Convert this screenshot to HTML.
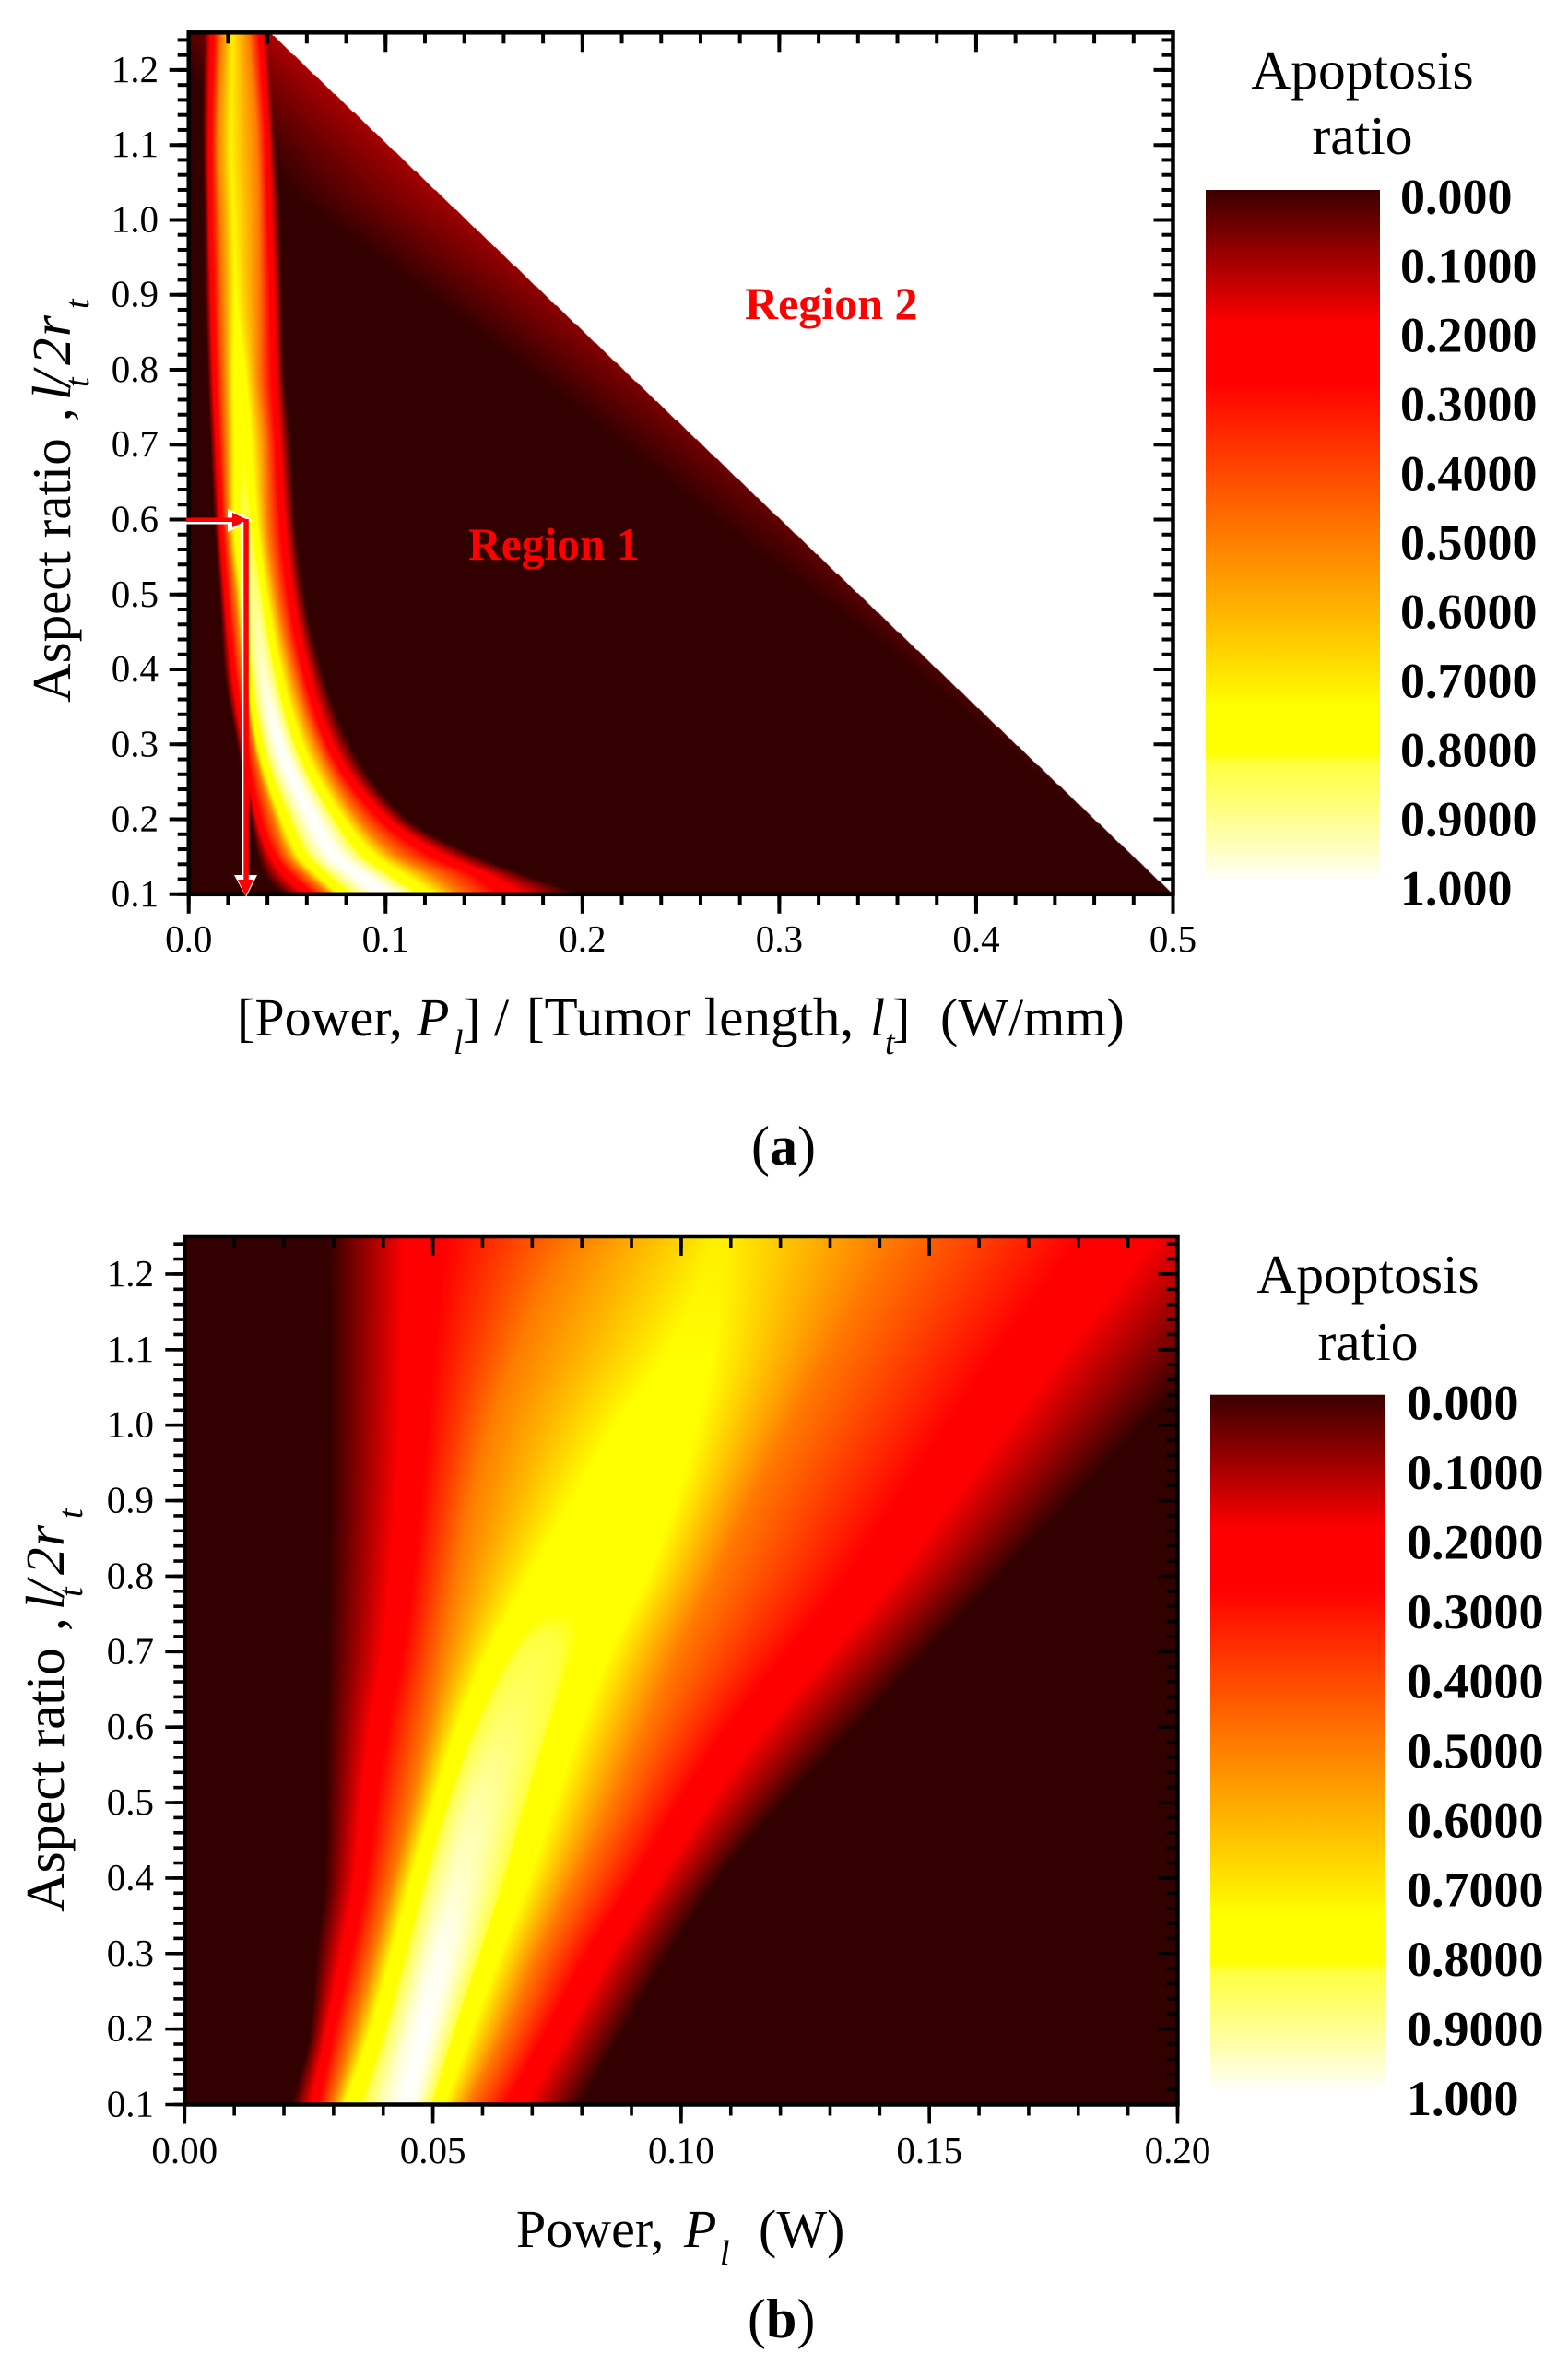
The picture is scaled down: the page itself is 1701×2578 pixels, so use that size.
<!DOCTYPE html>
<html lang="en">
<head>
<meta charset="utf-8">
<title>Apoptosis ratio maps</title>
<style>
html,body{margin:0;padding:0;background:#fff;}
#page{position:relative;width:1701px;height:2578px;overflow:hidden;background:#fff;}
canvas{position:absolute;display:block;}
svg{position:absolute;left:0;top:0;}
text{font-family:"Liberation Serif",serif;fill:#000;}
</style>
</head>
<body>
<div id="page">
<canvas id="heatA"></canvas>
<canvas id="heatB"></canvas>
<svg id="ov" width="1701" height="2578" viewBox="0 0 1701 2578">
  <defs>
    <linearGradient id="barGrad" x1="0" y1="0" x2="0" y2="1"></linearGradient>
  </defs>
  <g id="layerA"></g>
  <g id="layerB"></g>

  <!-- Panel a annotations -->
  <text x="508" y="607" font-size="49.5" font-weight="bold" style="fill:#ff0000">Region 1</text>
  <text x="808" y="346" font-size="50" font-weight="bold" style="fill:#ff0000">Region 2</text>
  <g>
    <rect x="202" y="565.5" width="50" height="3" fill="#fff"></rect>
    <polygon points="247,552 274,564 247,577" fill="#fff"></polygon>
    <rect x="202" y="561.5" width="52" height="4.5" fill="#ff0000"></rect>
    <polygon points="252,556 269,564 252,572" fill="#ff0000"></polygon>
    <rect x="261.7" y="566" width="3.3" height="83" fill="#fff"></rect>
    <rect x="262.7" y="649" width="1.8" height="305" fill="#fff"></rect>
    <polygon points="254,949 279,949 267,973" fill="#fff"></polygon>
    <rect x="264.3" y="563" width="5.5" height="395" fill="#ff0000"></rect>
    <polygon points="258,954 275,954 266.5,972" fill="#ff0000"></polygon>
  </g>

  <!-- Panel a titles -->
  <g transform="translate(76,762) rotate(-90)" font-size="59">
    <text x="0" y="0">Aspect ratio</text>
    <text x="305" y="0">,</text>
    <text x="328" y="0" font-style="italic">l</text>
    <text x="342" y="20" font-size="38" font-style="italic">t</text>
    <text x="343" y="0" font-style="italic">/</text>
    <text x="366" y="0" font-style="italic">2</text>
    <text x="397" y="0" font-style="italic">r</text>
    <text x="427" y="20" font-size="38" font-style="italic">t</text>
  </g>
  <g font-size="58">
    <text x="257" y="1123">[Power,</text>
    <text x="452" y="1123" font-style="italic">P</text>
    <text x="492" y="1143" font-size="38" font-style="italic">l</text>
    <text x="502" y="1123">]</text>
    <text x="536" y="1123">/</text>
    <text x="571" y="1123" font-size="59">[Tumor length,</text>
    <text x="944" y="1123" font-style="italic">l</text>
    <text x="960" y="1143" font-size="38" font-style="italic">t</text>
    <text x="968" y="1123">]</text>
    <text x="1020" y="1123">(W/mm)</text>
  </g>
  <text x="1478" y="96" font-size="59.5" text-anchor="middle">Apoptosis</text>
  <text x="1478" y="167" font-size="59.5" text-anchor="middle">ratio</text>
  <text x="815" y="1263" font-size="60">(<tspan font-weight="bold">a</tspan>)</text>

  <!-- Panel b titles -->
  <g transform="translate(69,2074) rotate(-90)" font-size="59">
    <text x="0" y="0">Aspect ratio</text>
    <text x="305" y="0">,</text>
    <text x="328" y="0" font-style="italic">l</text>
    <text x="342" y="20" font-size="38" font-style="italic">t</text>
    <text x="343" y="0" font-style="italic">/</text>
    <text x="366" y="0" font-style="italic">2</text>
    <text x="397" y="0" font-style="italic">r</text>
    <text x="427" y="20" font-size="38" font-style="italic">t</text>
  </g>
  <g font-size="58">
    <text x="560" y="2437">Power,</text>
    <text x="742" y="2437" font-style="italic">P</text>
    <text x="781" y="2456" font-size="38" font-style="italic">l</text>
    <text x="823" y="2437">(W)</text>
  </g>
  <text x="1484" y="1402" font-size="59.5" text-anchor="middle">Apoptosis</text>
  <text x="1484" y="1475" font-size="59.5" text-anchor="middle">ratio</text>
  <text x="811" y="2535" font-size="60">(<tspan font-weight="bold">b</tspan>)</text>
</svg>
</div>

<script>
/* ---------- Colour scale ---------- */
const colorLevels = [0, 0.194, 0.28, 0.51, 0.75, 0.815, 0.83, 0.88, 0.94, 1];
const colorReds   = [51, 255, 255, 255, 255, 255, 255, 255, 255, 255];
const colorGreens = [0, 0, 0, 128, 255, 255, 255, 255, 255, 255];
const colorBlues  = [0, 0, 0, 0, 0, 0, 64, 112, 176, 252];
const colorbarLabels = ['0.000','0.1000','0.2000','0.3000','0.4000','0.5000','0.6000','0.7000','0.8000','0.9000','1.000'];

/* ---------- Panel a: level crossings read for each aspect-ratio row ---------- */
const aRows        = [0.1, 0.125, 0.15, 0.2, 0.3, 0.4, 0.5, 0.6, 0.7, 0.8, 0.9, 1.0, 1.1, 1.25];
const aLeftDark    = [.0479,.0386,.0353,.0315,.0245,.0180,.0157,.0129,.0110,.0096,.0086,.0082,.0072,.0072];
const aLeftRed     = [.0619,.0507,.0432,.0353,.0283,.0227,.0189,.0166,.0147,.0129,.0119,.0110,.0110,.0119];
const aLeftOrange  = [.0713,.0600,.0507,.0432,.0329,.0273,.0236,.0199,.0189,.0180,.0171,.0161,.0147,.0166];
const aLeftYellow  = [.0773,.0666,.0572,.0479,.0353,.0297,.0269,.0236,.0240,.0232,.0236,.0227,.0213,.0222];
const aPeak        = [.0993,.0867,.0741,.0633,.0460,.0375,.0329,.0287,.0273,.0250,.0236,.0227,.0213,.0222];
const aRightYellow = [.1227,.1068,.0928,.0773,.0563,.0455,.0386,.0335,.0305,.0275,.0236,.0227,.0213,.0222];
const aRightOrange = [.1381,.1255,.1068,.0867,.0647,.0525,.0446,.0400,.0390,.0357,.0357,.0357,.0348,.0306];
const aRightRed    = [.1614,.1488,.1273,.0993,.0713,.0590,.0516,.0474,.0451,.0432,.0423,.0409,.0400,.0367];
const aRightDark   = [.2000,.1722,.1474,.1114,.0820,.0675,.0586,.0540,.0516,.0484,.0474,.0465,.0442,.0414];
const aPeakValue   = [1, 1, 1, 1, 1, .96, .90, .84, .81, .785, .76, .74, .73, .72];
/* Region boundary and the thin glow along it */
const aEdgePower = [0.0414, 0.5];
const aEdgeRatio = [1.25, 0.1];
const aGlowRows  = [0.1, 0.15, 0.3, 0.44, 0.59, 0.81, 1.03, 1.25];
const aGlowValue = [0, .003, .012, .028, .043, .073, .104, .115];
const aGlowDepth = [.002, .004, .008, .016, .033, .05, .075, .06];

/* ---------- Panel b: level crossings read for each aspect-ratio row ---------- */
const bRows        = [0.1, 0.2, 0.3, 0.4, 0.5, 0.6, 0.7, 0.8, 0.9, 1.0, 1.1, 1.2, 1.25];
const bLeftDark    = [.0216,.0253,.0265,.0282,.0285,.0286,.0288,.0290,.0292,.0292,.0292,.0290,.0288];
const bLeftRed     = [.0264,.0294,.0327,.0356,.0373,.0394,.0424,.0443,.0457,.0467,.0471,.0477,.0480];
const bLeftOrange  = [.0298,.0340,.0381,.0419,.0456,.0489,.0520,.0548,.0576,.0614,.0670,.0737,.0784];
const bLeftYellow  = [.0327,.0381,.0423,.0464,.0510,.0560,.0630,.0722,.0813,.0885,.0975,.1040,.1065];
const bPeak        = [.0448,.0481,.0518,.0551,.0589,.0645,.0705,.0790,.0870,.0950,.1005,.1055,.1080];
const bRightYellow = [.0514,.0565,.0620,.0675,.0721,.0770,.0830,.0905,.0965,.1020,.1065,.1085,.1095];
const bRightOrange = [.0572,.0647,.0713,.0788,.0862,.0928,.0995,.1070,.1140,.1220,.1300,.1380,.1420];
const bRightRed    = [.0663,.0746,.0829,.0928,.1020,.1125,.1255,.1382,.1487,.1594,.1700,.1818,.1873];
const bRightDark   = [.0796,.0885,.0975,.1075,.1205,.1350,.1495,.1640,.1785,.1930,.2075,.2220,.2290];
const bPeakValue   = [1, 1, .99, .96, .93, .88, .84, .80, .79, .765, .745, .728, .72];

/* ---------- Axis ticks ---------- */
const aXTickLabels = ['0.0','0.1','0.2','0.3','0.4','0.5'];
const aXTicks = [0, 0.1, 0.2, 0.3, 0.4, 0.5];
const bXTickLabels = ['0.00','0.05','0.10','0.15','0.20'];
const bXTicks = [0, 0.05, 0.1, 0.15, 0.2];
const yTickLabels = ['0.1','0.2','0.3','0.4','0.5','0.6','0.7','0.8','0.9','1.0','1.1','1.2'];
const yTicks = [0.1,0.2,0.3,0.4,0.5,0.6,0.7,0.8,0.9,1.0,1.1,1.2];

/* ---------- Axis functions ---------- */
const axisA = {left:204.7, right:1272.5, top:35.3, bottom:969.8, xMax:0.5};
const axisB = {left:200.3, right:1277.5, top:1341, bottom:2282.5, xMax:0.2};
function xScale(ax, v){ return ax.left + (ax.right-ax.left)*v/ax.xMax; }
function yScale(ax, v){ return ax.bottom - (ax.bottom-ax.top)*(v-0.1)/1.15; }
function xInvert(ax, px){ return (px-ax.left)*ax.xMax/(ax.right-ax.left); }
function yInvert(ax, py){ return 0.1 + (ax.bottom-py)*1.15/(ax.bottom-ax.top); }

function lookup(xs, ys, x){
  if(x<=xs[0]) return ys[0];
  for(let i=1;i<xs.length;i++){
    if(x<=xs[i]){ const t=(x-xs[i-1])/(xs[i]-xs[i-1]); return ys[i-1]+(ys[i]-ys[i-1])*t; }
  }
  return ys[ys.length-1];
}
/* monotone cubic reading of the row tables so band edges curve between rows */
function smoothLookup(xs, ys, x){
  const n=xs.length;
  if(x<=xs[0]) return ys[0];
  if(x>=xs[n-1]) return ys[n-1];
  let i=1;
  while(x>xs[i]) i++;
  const slope=function(k){ return (ys[k+1]-ys[k])/(xs[k+1]-xs[k]); };
  const tangent=function(k){
    if(k===0) return slope(0);
    if(k===n-1) return slope(n-2);
    const a=slope(k-1), b=slope(k);
    if(a*b<=0) return 0;
    const h0=xs[k]-xs[k-1], h1=xs[k+1]-xs[k];
    return (h0+h1)*3/((2*h1+h0)/a+(h1+2*h0)/b);
  };
  const h=xs[i]-xs[i-1], t=(x-xs[i-1])/h;
  const t2=t*t, t3=t2*t;
  return (2*t3-3*t2+1)*ys[i-1]+(t3-2*t2+t)*h*tangent(i-1)+(-2*t3+3*t2)*ys[i]+(t3-t2)*h*tangent(i);
}
function colorOf(v){
  const r=Math.round(lookup(colorLevels,colorReds,v));
  const g=Math.round(lookup(colorLevels,colorGreens,v));
  const b=Math.round(lookup(colorLevels,colorBlues,v));
  return [r,g,b];
}
function dome(t){
  const u=Math.max(0,(t-.2)/.8);
  return 1-(1-u)*(1-u);
}
function bandValue(p, k, pk){
  /* k: nine crossing positions for this row, levels 0,.24,.5,.8,peak,.8,.5,.24,0 */
  const top=Math.min(.8,pk);
  const lv=[0,.24,.5,top,pk,top,.5,.24,0];
  if(p<=k[0]||p>=k[8]) return 0;
  for(let i=1;i<9;i++){
    if(p<=k[i]){
      const w=k[i]-k[i-1];
      const t=w>0?(p-k[i-1])/w:1;
      if(i===4&&pk>.8) return .8+(pk-.8)*dome(t);
      if(i===5&&pk>.8) return .8+(pk-.8)*dome(1-t);
      return lv[i-1]+(lv[i]-lv[i-1])*t;
    }
  }
  return 0;
}
function paint(id, ax, rows, cols, peaks, extra){
  const c=document.getElementById(id);
  const L=Math.floor(ax.left), T=Math.floor(ax.top);
  const W=Math.ceil(ax.right)-L, H=Math.ceil(ax.bottom)-T;
  c.width=W; c.height=H;
  c.style.left=L+'px'; c.style.top=T+'px';
  const g=c.getContext('2d');
  const img=g.createImageData(W,H);
  const d=img.data;
  for(let j=0;j<H;j++){
    const y=yInvert(ax,T+j+.5);
    const k=cols.map(function(col){return smoothLookup(rows,col,y);});
    const pk=smoothLookup(rows,peaks,y);
    for(let i=0;i<W;i++){
      const p=xInvert(ax,L+i+.5);
      const o=(j*W+i)*4;
      let v=bandValue(p,k,pk);
      if(extra){
        const e=extra(p,y);
        if(e<0){ d[o]=255;d[o+1]=255;d[o+2]=255;d[o+3]=255; continue; }
        v=Math.max(v,e);
      }
      const rgb=colorOf(v);
      d[o]=rgb[0];d[o+1]=rgb[1];d[o+2]=rgb[2];d[o+3]=255;
    }
  }
  g.putImageData(img,0,0);
}
function regionGlow(p,y){
  const t=(y-aEdgeRatio[1])/(aEdgeRatio[0]-aEdgeRatio[1]);
  const hyp=aEdgePower[1]+(aEdgePower[0]-aEdgePower[1])*t;
  if(p>hyp) return -1;
  const depth=lookup(aGlowRows,aGlowDepth,y);
  const val=lookup(aGlowRows,aGlowValue,y);
  const dist=hyp-p;
  return dist>=depth?0:val*(1-dist/depth);
}
paint('heatA',axisA,aRows,[aLeftDark,aLeftRed,aLeftOrange,aLeftYellow,aPeak,aRightYellow,aRightOrange,aRightRed,aRightDark],aPeakValue,regionGlow);
paint('heatB',axisB,bRows,[bLeftDark,bLeftRed,bLeftOrange,bLeftYellow,bPeak,bRightYellow,bRightOrange,bRightRed,bRightDark],bPeakValue,null);

/* ---------- SVG axes ---------- */
const NS='http://www.w3.org/2000/svg';
function drawLine(parent,x1,y1,x2,y2,w){
  const el=document.createElementNS(NS,'line');
  el.setAttribute('x1',x1);el.setAttribute('y1',y1);el.setAttribute('x2',x2);el.setAttribute('y2',y2);
  el.setAttribute('stroke','#000');el.setAttribute('stroke-width',w);
  
  
  parent.appendChild(el);
}
function drawLabel(parent,x,y,str,anchor,size,weight){
  const el=document.createElementNS(NS,'text');
  el.setAttribute('x',x);el.setAttribute('y',y);
  el.setAttribute('text-anchor',anchor);el.setAttribute('font-size',size);
  if(weight) el.setAttribute('font-weight',weight);
  el.textContent=str;
  
  
  parent.appendChild(el);
}
function drawAxes(layerId, ax, xTicks, xLabels, xMinorStep, yLabelRight, xLabelBase, tickW){
  const g=document.getElementById(layerId);
  /* minor ticks */
  const xm=Math.round(ax.xMax/xMinorStep);
  for(let i=0;i<=xm;i++){
    const px=xScale(ax,i*xMinorStep);
    drawLine(g,px,ax.bottom,px,ax.bottom+12,tickW);
    drawLine(g,px,ax.top,px,ax.top+12,tickW);
  }
  for(let i=0;i<=57;i++){
    const py=yScale(ax,0.1+i*0.02);
    drawLine(g,ax.left-12,py,ax.left,py,tickW);
    drawLine(g,ax.right-12,py,ax.right,py,tickW);
  }
  /* major ticks and labels */
  xTicks.forEach(function(v,i){
    const px=xScale(ax,v);
    drawLine(g,px,ax.bottom,px,ax.bottom+21,tickW);
    drawLine(g,px,ax.top,px,ax.top+21,tickW);
    drawLabel(g,px,xLabelBase,xLabels[i],'middle',41);
  });
  yTicks.forEach(function(v,i){
    const py=yScale(ax,v);
    drawLine(g,ax.left-21,py,ax.left,py,tickW);
    drawLine(g,ax.right-21,py,ax.right,py,tickW);
    drawLabel(g,yLabelRight,py+13,yTickLabels[i],'end',41);
  });
  /* frame */
  const fr=document.createElementNS(NS,'rect');
  fr.setAttribute('x',ax.left);fr.setAttribute('y',ax.top);
  fr.setAttribute('width',ax.right-ax.left);fr.setAttribute('height',ax.bottom-ax.top);
  fr.setAttribute('fill','none');fr.setAttribute('stroke','#000');fr.setAttribute('stroke-width',4.5);
  
  
  g.appendChild(fr);
}
drawAxes('layerA',axisA,aXTicks,aXTickLabels,0.02,172,1032,4);
drawAxes('layerB',axisB,bXTicks,bXTickLabels,0.01,167,2346,3.6);

/* ---------- Colour bars ---------- */
const grad=document.getElementById('barGrad');
colorLevels.forEach(function(lv){
  const rgb=colorOf(lv);
  const s=document.createElementNS(NS,'stop');
  s.setAttribute('offset',lv);
  s.setAttribute('stop-color','rgb('+(lv===0?58:rgb[0])+','+rgb[1]+','+rgb[2]+')');
  grad.appendChild(s);
});
function drawBar(layerId,x,y,w,h,labelX,labelY0,labelStep){
  const g=document.getElementById(layerId);
  const r=document.createElementNS(NS,'rect');
  r.setAttribute('x',x);r.setAttribute('y',y);r.setAttribute('width',w);r.setAttribute('height',h);
  r.setAttribute('fill','url(#barGrad)');
  
  
  g.appendChild(r);
  colorbarLabels.forEach(function(str,i){
    drawLabel(g,labelX,labelY0+i*labelStep+18,str,'start',54,'bold');
  });
}
drawBar('layerA',1308,206,189,749,1519,213.7,74.97);
drawBar('layerB',1313,1512.7,190,754.3,1526,1521.7,75.43);
</script>
</body>
</html>
